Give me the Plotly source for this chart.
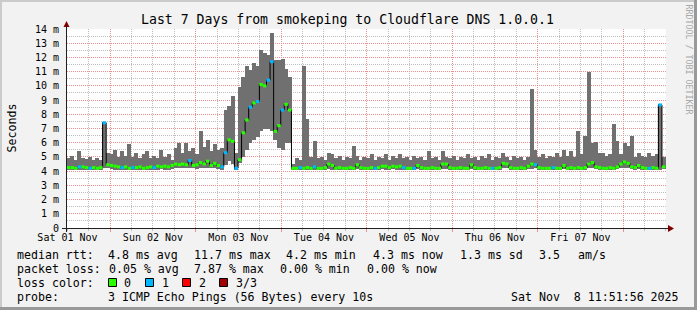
import plotly.graph_objects as go

# ---------------- data (hourly bins, ms) ----------------
SMOKE_MAX = [
    4.95, 5.05, 4.8, 5.45, 4.9, 4.85, 5.0, 4.75, 4.9, 4.8, 7.45, 5.3,
    5.2, 5.5, 5.0, 5.4, 5.1, 5.9, 5.0, 5.3, 4.9, 5.2, 5.4, 4.9,
    5.1, 4.9, 5.5, 5.0, 5.2, 4.8, 5.6, 6.0, 5.3, 6.0, 5.4, 5.6,
    5.2, 6.8, 5.7, 6.2, 5.4, 5.9, 5.5, 5.6, 8.3, 8.6, 9.3, 5.3,
    9.9, 10.6, 11.4, 11.1, 11.6, 11.4, 12.5, 12.3, 12.2, 13.7, 11.8, 11.8,
    11.9, 11.2, 10.6, 4.5, 4.9, 4.8, 11.4, 7.7, 5.0, 6.1, 4.9, 5.0,
    4.8, 5.3, 5.2, 4.9, 5.1, 4.8, 5.0, 4.9, 5.8, 5.1, 4.8, 5.0,
    4.9, 5.2, 4.8, 5.0, 4.9, 5.2, 4.8, 5.1, 4.9, 5.2, 4.9, 5.0,
    4.8, 5.1, 4.9, 5.0, 4.8, 5.4, 4.9, 5.0, 4.8, 5.4, 5.0, 4.9,
    5.1, 4.8, 5.0, 4.9, 5.2, 4.9, 5.0, 4.8, 5.1, 4.9, 5.2, 4.8,
    5.0, 4.9, 5.3, 5.0, 4.8, 5.1, 4.9, 5.0, 4.8, 5.0, 9.8, 5.5,
    5.0, 5.2, 4.9, 5.1, 5.0, 5.3, 5.0, 5.5, 5.1, 5.4, 5.0, 6.8,
    5.2, 6.5, 11.0, 6.0, 6.05, 5.3, 5.3, 5.1, 5.2, 7.3, 6.1, 5.2,
    6.0, 5.8, 6.5, 5.0, 5.3, 5.1, 5.0, 5.3, 5.1, 5.2, 8.7, 5.0,
]
SMOKE_MIN = [
    4.1, 4.1, 4.05, 4.1, 4.1, 4.05, 4.1, 4.1, 4.05, 4.1, 4.2, 4.2,
    4.15, 4.1, 4.1, 4.05, 4.1, 4.1, 4.1, 4.05, 4.1, 4.1, 4.1, 4.05,
    4.1, 4.1, 4.15, 4.1, 4.1, 4.15, 4.2, 4.2, 4.2, 4.2, 4.25, 4.2,
    4.15, 4.2, 4.2, 4.25, 4.2, 4.2, 4.15, 4.1, 4.4, 4.7, 4.5, 4.05,
    4.6, 5.0, 5.5, 6.0, 6.2, 6.4, 6.8, 7.0, 7.0, 6.8, 6.2, 5.6,
    5.5, 6.0, 6.0, 4.1, 4.1, 4.05, 4.1, 4.1, 4.05, 4.1, 4.1, 4.1,
    4.1, 4.15, 4.1, 4.05, 4.1, 4.1, 4.05, 4.1, 4.1, 4.15, 4.1, 4.1,
    4.05, 4.1, 4.1, 4.1, 4.15, 4.1, 4.1, 4.15, 4.1, 4.1, 4.05, 4.1,
    4.1, 4.05, 4.15, 4.1, 4.1, 4.1, 4.05, 4.1, 4.1, 4.15, 4.15, 4.1,
    4.1, 4.05, 4.1, 4.1, 4.1, 4.15, 4.1, 4.05, 4.1, 4.1, 4.1, 4.05,
    4.1, 4.1, 4.2, 4.2, 4.1, 4.05, 4.1, 4.1, 4.05, 4.15, 4.15, 4.2,
    4.1, 4.1, 4.05, 4.1, 4.1, 4.1, 4.05, 4.15, 4.1, 4.1, 4.05, 4.1,
    4.1, 4.1, 4.2, 4.25, 4.15, 4.1, 4.05, 4.1, 4.1, 4.1, 4.15, 4.2,
    4.25, 4.2, 4.15, 4.1, 4.15, 4.1, 4.05, 4.1, 4.1, 4.1, 4.1, 4.15,
]
MEDIAN = [
    4.25, 4.25, 4.2, 4.3, 4.3, 4.25, 4.2, 4.25, 4.2, 4.25, 7.4, 4.45,
    4.4, 4.35, 4.3, 4.25, 4.3, 4.2, 4.25, 4.25, 4.3, 4.2, 4.25, 4.3,
    4.25, 4.35, 4.3, 4.35, 4.3, 4.4, 4.5, 4.45, 4.5, 4.45, 4.75, 4.4,
    4.45, 4.6, 4.5, 4.7, 4.4, 4.55, 4.4, 4.3, 5.3, 6.2, 6.1, 4.2,
    4.8, 6.7, 7.6, 8.5, 8.8, 8.9, 10.1, 10.0, 10.4, 11.7, 6.8, 7.2,
    8.3, 8.7, 8.3, 4.2, 4.2, 4.25, 4.2, 4.25, 4.2, 4.3, 4.2, 4.2,
    4.25, 4.5, 4.4, 4.2, 4.25, 4.2, 4.2, 4.25, 4.2, 4.45, 4.25, 4.2,
    4.2, 4.25, 4.2, 4.25, 4.35, 4.35, 4.25, 4.35, 4.3, 4.35, 4.25, 4.2,
    4.2, 4.2, 4.4, 4.25, 4.2, 4.2, 4.25, 4.2, 4.2, 4.5, 4.5, 4.25,
    4.2, 4.2, 4.25, 4.2, 4.2, 4.45, 4.25, 4.2, 4.2, 4.25, 4.2, 4.2,
    4.2, 4.25, 4.55, 4.5, 4.25, 4.2, 4.2, 4.25, 4.2, 4.35, 4.5, 4.45,
    4.25, 4.2, 4.2, 4.2, 4.25, 4.2, 4.2, 4.4, 4.2, 4.25, 4.2, 4.25,
    4.2, 4.25, 4.5, 4.6, 4.3, 4.25, 4.2, 4.2, 4.25, 4.2, 4.3, 4.5,
    4.65, 4.55, 4.3, 4.25, 4.4, 4.25, 4.2, 4.2, 4.25, 4.2, 8.66, 4.3,
]
LOSS = [
    0, 0, 0, 1, 0, 0, 1, 0, 0, 0, 1, 0,
    0, 0, 0, 1, 0, 0, 1, 0, 0, 0, 0, 0,
    1, 0, 0, 0, 0, 0, 0, 0, 0, 0, 1, 0,
    0, 0, 0, 0, 0, 0, 0, 1, 1, 0, 0, 1,
    0, 0, 0, 1, 0, 1, 0, 0, 1, 1, 0, 0,
    1, 0, 0, 0, 0, 1, 0, 0, 0, 1, 0, 0,
    0, 0, 0, 0, 0, 0, 0, 0, 0, 0, 0, 0,
    0, 0, 1, 0, 0, 0, 0, 0, 0, 0, 1, 0,
    0, 1, 0, 0, 0, 0, 0, 0, 0, 0, 0, 0,
    0, 0, 0, 0, 0, 0, 0, 0, 0, 0, 0, 1,
    0, 0, 0, 0, 0, 0, 0, 0, 0, 0, 0, 1,
    0, 0, 0, 0, 1, 0, 0, 0, 0, 0, 0, 0,
    0, 0, 0, 0, 0, 0, 0, 0, 0, 0, 0, 0,
    0, 0, 0, 0, 0, 0, 0, 1, 0, 0, 1, 0,
]
DAY_LABELS = ["Sat 01 Nov", "Sun 02 Nov", "Mon 03 Nov", "Tue 04 Nov",
              "Wed 05 Nov", "Thu 06 Nov", "Fri 07 Nov"]
Y_TICKS = list(range(0, 15))
LOSS_LABELS = ["0", "1", "2", "3/3"]
LOSS_COLORS = ["#26ff00", "#00b8ff", "#ff0000", "#a10000"]

# ---------------- geometry / style ----------------
W, H = 697, 310
ML, MR, MT, MB = 67, 31, 29, 82
PW, PH = W - ML - MR, H - MT - MB
START = (11 + 51 / 60 + 56 / 3600) / 24      # days after Sat 01 Nov 00:00
PX_PER_DAY = 85.5
X0, X1 = START, START + PW / PX_PER_DAY
BIN = 1 / 24
FONT = "DejaVu Sans Mono"
SMOKE = "#707070"
MGRID = "#ee9090"
GRID = "#bdbdbd"


def pxx(px):
    return (px - ML) / PW


def pxy(py):
    return (H - MB - py) / PH


n = len(MEDIAN)
edges = [START + i * BIN for i in range(n + 1)]
centers = [START + (i + 0.5) * BIN for i in range(n)]

fig = go.Figure()

# smoke
fig.add_trace(go.Bar(
    x=centers, base=SMOKE_MIN, y=[mx - mn for mx, mn in zip(SMOKE_MAX, SMOKE_MIN)],
    width=BIN * 1.12, marker=dict(color=SMOKE, line=dict(width=0)),
    hoverinfo="skip", showlegend=False))

# median black step line
fig.add_trace(go.Scatter(
    x=edges, y=MEDIAN + [MEDIAN[-1]], mode="lines",
    line=dict(color="#000000", width=1, shape="hv"),
    hoverinfo="skip", showlegend=False))

# loss-coloured median bands
for cls, col in enumerate(LOSS_COLORS):
    xs, ys = [], []
    for i in range(n):
        if LOSS[i] == cls:
            xs += [edges[i], edges[i + 1], None]
            ys += [MEDIAN[i], MEDIAN[i], None]
    if xs:
        fig.add_trace(go.Scatter(x=xs, y=ys, mode="lines",
                                 line=dict(color=col, width=3),
                                 hoverinfo="skip", showlegend=False))

# dummy trace for the major-grid x axis
fig.add_trace(go.Scatter(x=[X0], y=[0], xaxis="x2", mode="markers",
                         marker=dict(opacity=0), hoverinfo="skip", showlegend=False))

noon = [d + 0.5 for d in range(7)]
midnights = [d for d in range(1, 8) if X0 <= d <= X1]
six_h = [k / 4 for k in range(int(X0 * 4) + 1, int(X1 * 4) + 1) if k % 4 != 0]

fig.update_layout(
    width=W, height=H,
    margin=dict(l=ML, r=MR, t=MT, b=MB, pad=0),
    paper_bgcolor="#f2f2f2", plot_bgcolor="#ffffff",
    bargap=0, showlegend=False,
    font=dict(family=FONT, size=10, color="#000000"),
    xaxis=dict(range=[X0, X1], tickmode="array", tickvals=noon, ticktext=DAY_LABELS,
               showgrid=False, zeroline=False, showline=False, ticks="",
               ticklabelstandoff=2,
               tickfont=dict(family=FONT, size=10, color="#000"),
               minor=dict(tickmode="array", tickvals=six_h, showgrid=True,
                          gridcolor=GRID, griddash="1px,1px", gridwidth=1,
                          ticks="outside", ticklen=2, tickcolor=GRID)),
    xaxis2=dict(range=[X0, X1], overlaying="x", anchor="y", side="bottom",
                tickmode="array", tickvals=midnights, showticklabels=False,
                showgrid=True, gridcolor=MGRID, griddash="1px,1px", gridwidth=1,
                ticks="outside", ticklen=3, tickcolor=MGRID,
                zeroline=False, showline=False),
    yaxis=dict(range=[0, 14], tickmode="array", tickvals=Y_TICKS,
               ticktext=["0" if v == 0 else f"{v} m" for v in Y_TICKS],
               showgrid=True, gridcolor=MGRID, griddash="1px,1px", gridwidth=1,
               zeroline=False, showline=False, ticks="", ticklabelstandoff=7,
               tickfont=dict(family=FONT, size=10, color="#000"),
               minor=dict(tickmode="array", tickvals=[v + 0.5 for v in Y_TICKS[:-1]],
                          showgrid=True, gridcolor=GRID, griddash="1px,1px", gridwidth=1)),
)

shapes = []
# frame
shapes.append(dict(type="rect", xref="paper", yref="paper", x0=pxx(0), x1=pxx(W),
                   y0=pxy(0), y1=pxy(2), fillcolor="#cbcbcb", line=dict(width=0)))
shapes.append(dict(type="rect", xref="paper", yref="paper", x0=pxx(0), x1=pxx(2),
                   y0=pxy(0), y1=pxy(H), fillcolor="#cbcbcb", line=dict(width=0)))
shapes.append(dict(type="rect", xref="paper", yref="paper", x0=pxx(0), x1=pxx(W),
                   y0=pxy(H - 3), y1=pxy(H), fillcolor="#999999", line=dict(width=0)))
shapes.append(dict(type="rect", xref="paper", yref="paper", x0=pxx(W - 3), x1=pxx(W),
                   y0=pxy(0), y1=pxy(H), fillcolor="#999999", line=dict(width=0)))
# axes
shapes.append(dict(type="line", xref="paper", yref="paper", x0=pxx(62), x1=pxx(669),
                   y0=pxy(228.5), y1=pxy(228.5), line=dict(color="#202020", width=1)))
shapes.append(dict(type="line", xref="paper", yref="paper", x0=pxx(66.5), x1=pxx(66.5),
                   y0=pxy(232), y1=pxy(25), line=dict(color="#202020", width=1)))
# arrows
shapes.append(dict(type="path", xref="paper", yref="paper",
                   path=f"M {pxx(668)} {pxy(225)} L {pxx(674)} {pxy(228.5)} L {pxx(668)} {pxy(232)} Z",
                   fillcolor="#7f0000", line=dict(width=0)))
shapes.append(dict(type="path", xref="paper", yref="paper",
                   path=f"M {pxx(63.5)} {pxy(27)} L {pxx(66.5)} {pxy(21)} L {pxx(69.5)} {pxy(27)} Z",
                   fillcolor="#7f0000", line=dict(width=0)))
# loss colour boxes
BOX_X = [108.5, 145.5, 182.5, 219.5]
for bx, col in zip(BOX_X, LOSS_COLORS):
    shapes.append(dict(type="rect", xref="paper", yref="paper",
                       x0=pxx(bx), x1=pxx(bx + 8), y0=pxy(278.5), y1=pxy(286.5),
                       fillcolor=col, line=dict(color="#000000", width=1)))
fig.update_layout(shapes=shapes)

ann = []


def text(s, px, py, size=11.6, anchor="left", color="#000000", angle=0):
    ann.append(dict(text=s.replace(" ", "\u00a0"), xref="paper", yref="paper",
                    x=pxx(px), y=pxy(py), xanchor=anchor, yanchor="middle",
                    showarrow=False, textangle=angle, borderpad=0,
                    font=dict(family=FONT, size=size, color=color)))


text("Last 7 Days from smokeping to Cloudflare DNS 1.0.0.1", 347, 19.5, size=13.2, anchor="center")
text("Seconds", 11, 128.5, anchor="center", angle=-90)
text("RRDTOOL / TOBI OETIKER", 688.5, 59, size=8.3, anchor="center", color="#a8a8a8", angle=90)

ROW1 = [("median rtt:", 16), ("4.8 ms avg", 107), ("11.7 ms max", 192.5), ("4.2 ms min", 285),
        ("4.3 ms now", 372), ("1.3 ms sd", 458.5), ("3.5", 538), ("am/s", 577)]
ROW2 = [("packet loss:", 16), ("0.05 % avg", 107.5), ("7.87 % max", 193), ("0.00 % min", 279),
        ("0.00 % now", 365.5)]
ROW3 = [("loss color:", 16)] + list(zip(LOSS_LABELS, [123, 160.5, 197.5, 234.5]))
ROW4 = [("probe:", 16), ("3 ICMP Echo Pings (56 Bytes) every 10s", 107.3)]
for row, yy in ((ROW1, 255), (ROW2, 268.5), (ROW3, 282.7), (ROW4, 296.7)):
    for s, xx in row:
        text(s, xx, yy)
text("Sat Nov  8 11:51:56 2025", 680, 296.7, anchor="right")

fig.update_layout(annotations=ann)
fig.write_html("out.html")
